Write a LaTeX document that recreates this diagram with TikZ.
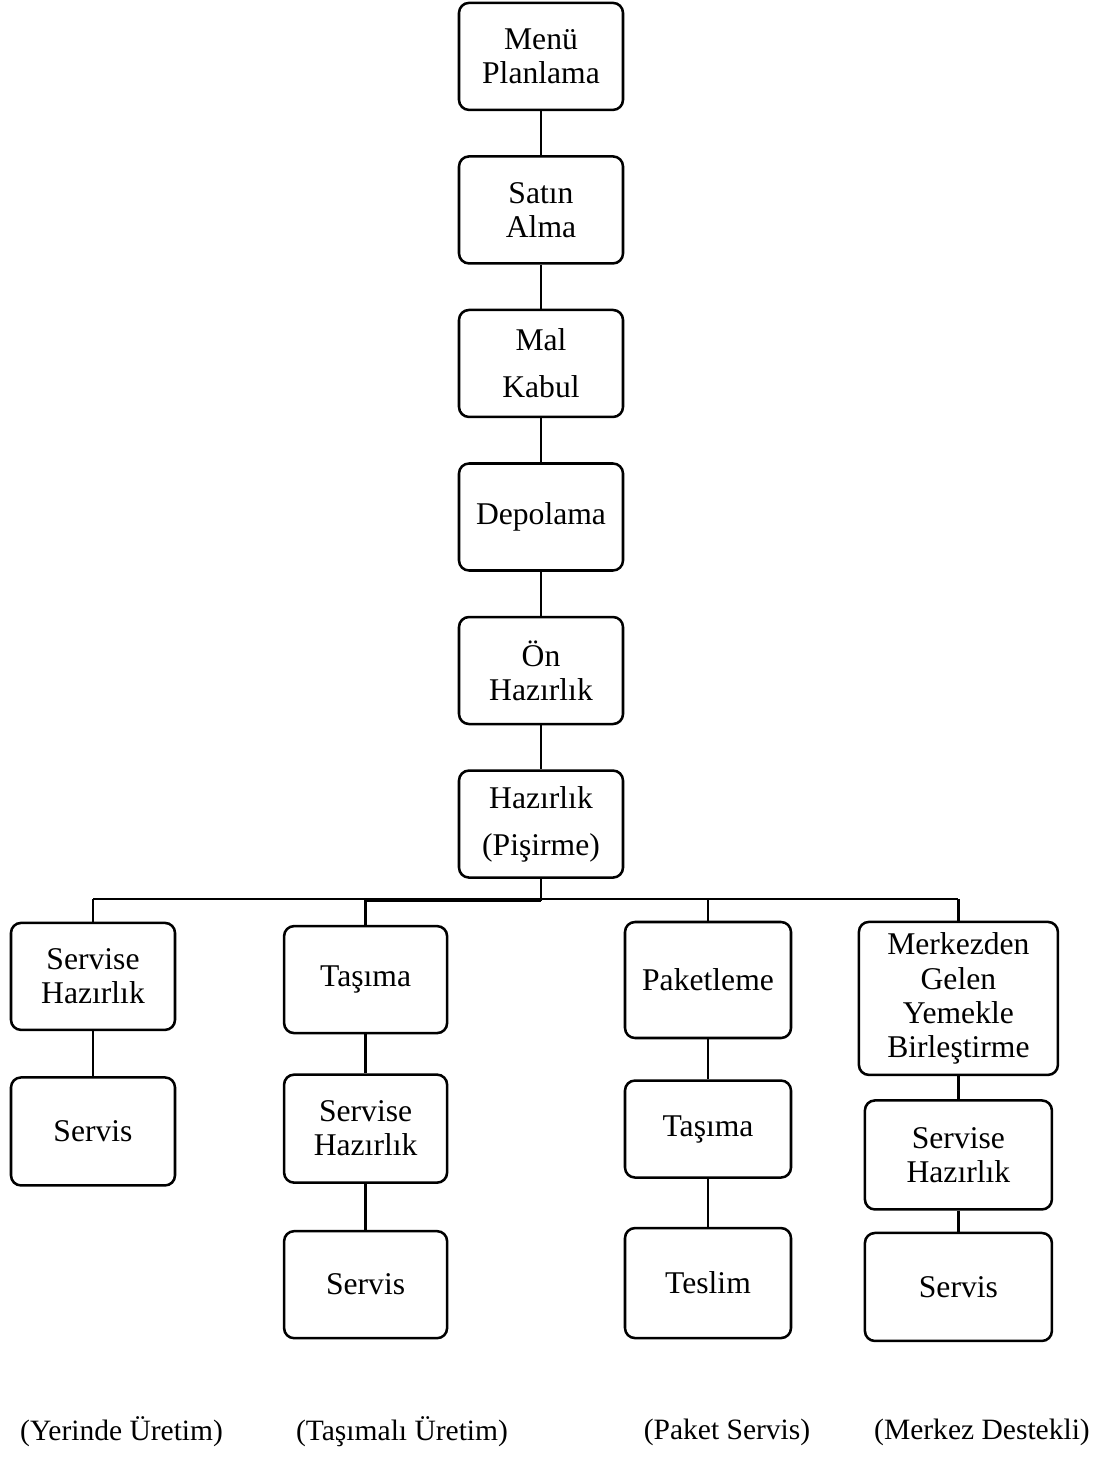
\documentclass[tikz,border=0pt]{standalone}
\usepackage{fontspec}
\setmainfont{Liberation Serif}
\usetikzlibrary{positioning}

\begin{document}
\begin{tikzpicture}[
    box/.style={draw, line width=1.8pt, rounded corners=0.25cm, align=center, minimum width=4.1cm, minimum height=2.675cm, font=\fontsize{22.5}{24.2}\selectfont},
    link/.style={line width=1.6pt},
    caption/.style={font=\fontsize{21}{23}\selectfont},
]
\useasboundingbox (0,0) rectangle (27.575,-36.525);

% ── Main chain ──
\node[box] (menu) at (13.525, -1.41) {Menü\\Planlama};
\node[box, below=1.1cm of menu] (satin) {Satın\\Alma};
\node[box, below=1.1cm of satin] (mal) {Mal\\[9pt]Kabul};
\node[box, below=1.1cm of mal] (depo) {Depolama};
\node[box, below=1.1cm of depo] (on) {Ön\\Hazırlık};
\node[box, below=1.1cm of on] (hz) {Hazırlık\\[9pt](Pişirme)};

\draw[link] (menu) -- (satin);
\draw[link] (satin) -- (mal);
\draw[link] (mal) -- (depo);
\draw[link] (depo) -- (on);
\draw[link] (on) -- (hz);

% ── Yerinde üretim ──
\node[box] (c1a) at (2.325, -24.41) {Servise\\Hazırlık};
\node[box, below=1.125cm of c1a, minimum height=2.7cm] (c1b) {Servis};

% ── Taşımalı üretim ──
\node[box, minimum width=4.075cm] (c2a) at (9.14, -24.49) {Taşıma};
\node[box, minimum width=4.075cm, minimum height=2.7cm, below=0.975cm of c2a] (c2b) {Servise\\Hazırlık};
\node[box, minimum width=4.075cm, below=1.15cm of c2b] (c2c) {Servis};

% ── Paket servis ──
\node[box, minimum width=4.15cm, minimum height=2.9cm] (c3a) at (17.7, -24.5) {Paketleme};
\node[box, minimum width=4.15cm, minimum height=2.425cm, below=1.0cm of c3a] (c3b) {Taşıma};
\node[box, minimum width=4.15cm, minimum height=2.75cm, below=1.2cm of c3b] (c3c) {Teslim};

% ── Merkez destekli ──
\node[box, minimum width=4.975cm, minimum height=3.825cm] (c4a) at (23.96, -24.96) {Merkezden\\Gelen\\Yemekle\\Birleştirme};
\node[box, minimum width=4.675cm, minimum height=2.725cm, below=0.575cm of c4a] (c4b) {Servise\\Hazırlık};
\node[box, minimum width=4.675cm, minimum height=2.7cm, below=0.525cm of c4b] (c4c) {Servis};

% ── Branches ──
\coordinate (bus) at (13.525, -22.475);
\draw[link] (hz) -- ([yshift=-1.5pt]bus);
\draw[link] (c1a.north |- bus) -- (c4a.north |- bus);
\draw[link] ([yshift=-1.5pt]c2a.north |- bus) -- ([yshift=-1.5pt]bus);
\foreach \n in {c1a, c2a, c3a, c4a}
    \draw[link] (\n.north) -- (\n.north |- bus);

\draw[link] (c1a) -- (c1b);
\draw[link] (c2a) -- (c2b);
\draw[link] (c2b) -- (c2c);
\draw[link] (c3a) -- (c3b);
\draw[link] (c3b) -- (c3c);
\draw[link] (c4a) -- (c4b);
\draw[link] (c4b) -- (c4c);

% ── Captions ──
\node[caption] (l1) at (3.04, -35.8) {(Yerinde Üretim)};
\node[caption] (l2) at (10.05, -35.8) {(Taşımalı Üretim)};
\node[caption] (l3) at (18.175, -35.8) {(Paket Servis)};
\node[caption] (l4) at (24.55, -35.8) {(Merkez Destekli)};

\end{tikzpicture}
\end{document}
